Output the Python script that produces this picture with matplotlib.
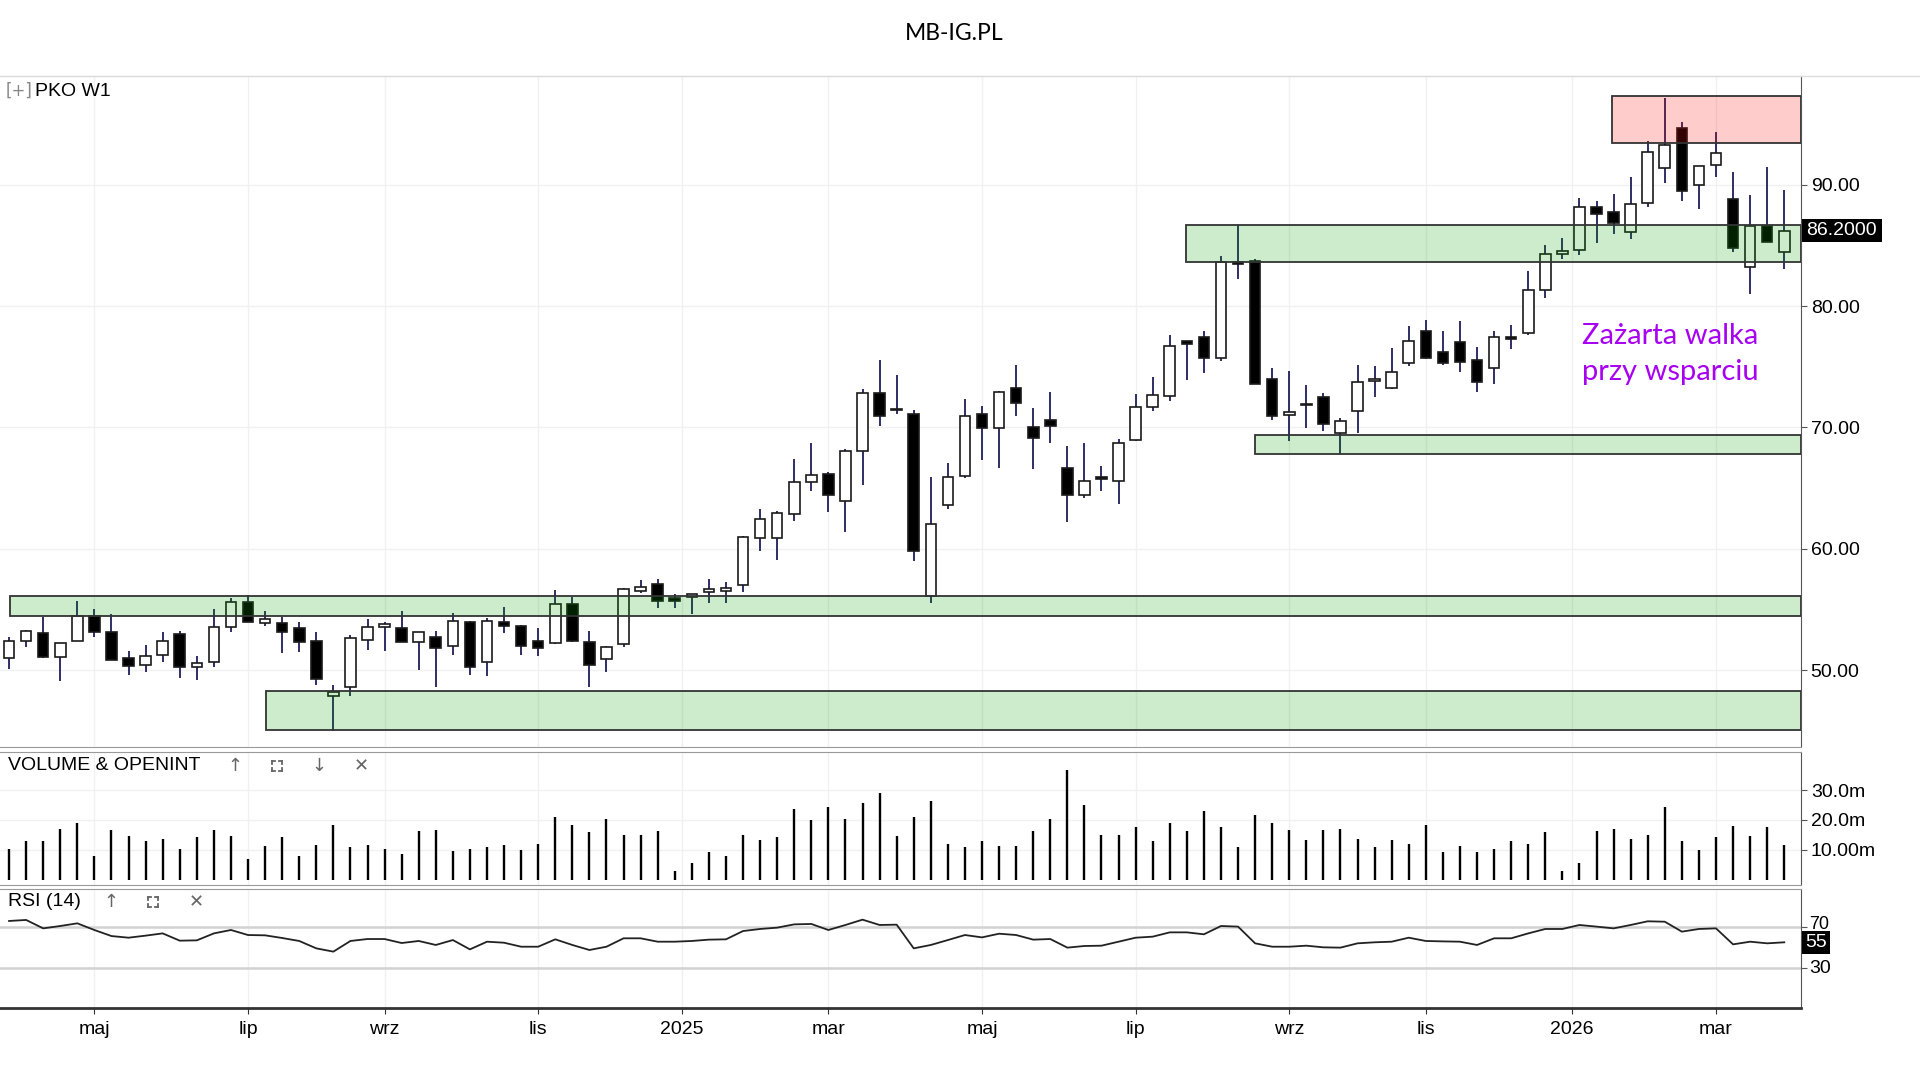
import numpy as np
import pandas as pd
import matplotlib
matplotlib.use('Agg')
import matplotlib.pyplot as plt
from matplotlib.patches import Rectangle
from matplotlib.lines import Line2D

plt.rcParams['font.family'] = ['Liberation Sans', 'DejaVu Sans']

# weekly PKO candles, week start dates
DATES = pd.date_range('2024-03-31', periods=105, freq='7D')

OPEN = [50.97, 52.43, 53.09, 51.06, 52.43, 54.49, 53.17, 50.97, 50.42, 51.25,
        52.95, 50.23, 50.64, 53.53, 55.61, 53.86, 53.91, 53.45, 52.43, 47.90,
        48.58, 52.48, 53.53, 53.50, 52.29, 52.76, 51.99, 53.99, 50.64, 53.99,
        53.66, 52.40, 52.21, 55.42, 52.35, 50.89, 52.15, 56.52, 57.07, 55.93,
        56.04, 56.40, 56.53, 57.02, 60.87, 60.87, 62.85, 65.47, 66.15, 63.93,
        68.05, 72.85, 71.49, 71.11, 56.12, 63.58, 65.96, 71.11, 69.95, 73.25,
        70.00, 70.62, 66.64, 64.47, 65.93, 65.61, 69.00, 71.65, 72.56, 77.11,
        77.47, 75.73, 83.66, 83.72, 74.02, 70.99, 71.90, 72.48, 69.53, 71.32,
        73.80, 73.25, 75.32, 77.93, 76.20, 77.06, 75.55, 74.86, 77.47, 77.75,
        81.31, 84.31, 84.58, 88.12, 87.77, 86.13, 88.50, 91.36, 94.63, 89.95,
        91.58, 88.80, 83.19, 86.62, 84.41]
HIGH = [52.76, 53.31, 54.35, 52.21, 55.72, 55.01, 54.60, 51.60, 52.07, 53.17,
        53.22, 51.17, 55.01, 55.97, 56.19, 54.90, 54.35, 53.99, 53.17, 48.78,
        52.90, 54.19, 53.99, 54.90, 53.17, 53.25, 54.68, 54.08, 54.27, 55.17,
        53.72, 53.45, 56.60, 56.00, 53.22, 51.99, 56.74, 57.43, 57.48, 56.31,
        56.26, 57.48, 57.26, 61.08, 63.25, 63.09, 67.43, 68.73, 66.29, 68.24,
        73.20, 75.56, 74.28, 71.44, 65.88, 67.10, 72.38, 71.79, 73.01, 75.10,
        71.57, 72.93, 68.46, 68.73, 66.83, 69.05, 72.74, 74.15, 77.58, 77.11,
        77.93, 84.13, 86.67, 83.86, 74.90, 74.63, 73.53, 72.84, 70.77, 75.18,
        75.04, 76.56, 78.35, 78.84, 77.93, 78.79, 76.65, 77.97, 78.43, 82.86,
        85.04, 85.59, 88.86, 88.66, 89.26, 90.63, 93.57, 97.17, 95.12, 91.53,
        94.31, 91.04, 89.18, 91.44, 89.59]
LOW = [50.07, 51.88, 51.03, 49.11, 52.43, 52.70, 50.84, 49.60, 49.82, 50.64,
       49.33, 49.19, 50.29, 53.12, 53.94, 53.64, 51.39, 51.52, 48.78, 44.99,
       47.87, 51.66, 51.58, 52.29, 50.01, 48.64, 51.25, 49.60, 49.52, 53.03,
       51.25, 51.17, 52.15, 52.35, 48.58, 49.82, 51.88, 56.33, 55.12, 55.12,
       54.63, 55.50, 55.50, 56.40, 59.78, 59.05, 62.30, 64.74, 63.04, 61.41,
       65.26, 70.14, 71.11, 58.97, 55.50, 63.25, 65.80, 67.32, 66.69, 70.98,
       66.61, 68.73, 62.22, 64.17, 64.74, 63.71, 68.86, 71.38, 72.15, 73.88,
       74.49, 75.45, 82.26, 73.58, 70.58, 68.84, 69.94, 69.67, 67.82, 69.53,
       72.51, 73.17, 75.04, 75.65, 75.18, 74.59, 72.94, 73.57, 76.43, 77.60,
       80.68, 83.87, 84.17, 85.23, 85.91, 85.50, 88.17, 90.14, 88.66, 87.96,
       90.63, 84.41, 80.95, 85.31, 83.05]
CLOSE = [52.43, 53.25, 51.06, 52.21, 54.46, 53.12, 50.84, 50.34, 51.17, 52.43,
         50.23, 50.56, 53.53, 55.61, 53.94, 54.19, 53.12, 52.29, 49.30, 48.17,
         52.62, 53.53, 53.80, 52.29, 53.17, 51.80, 54.08, 50.23, 54.08, 53.64,
         51.99, 51.80, 55.42, 52.40, 50.42, 51.88, 56.66, 56.88, 55.72, 55.72,
         56.26, 56.67, 56.80, 60.95, 62.44, 62.98, 65.53, 66.10, 64.44, 68.05,
         72.85, 70.95, 71.40, 59.78, 62.03, 65.93, 70.98, 69.95, 72.93, 71.98,
         69.13, 70.14, 64.39, 65.61, 65.75, 68.73, 71.71, 72.66, 76.69, 76.91,
         75.73, 83.64, 83.44, 73.58, 70.96, 71.24, 71.85, 70.28, 70.50, 73.72,
         74.00, 74.55, 77.11, 75.73, 75.32, 75.41, 73.76, 77.47, 77.25, 81.32,
         84.31, 84.50, 88.12, 87.55, 86.87, 88.39, 92.67, 93.30, 89.48, 91.53,
         92.59, 84.77, 86.62, 85.31, 86.20]

# volume in millions
VOLUME = [10.4, 13.1, 13.1, 17.1, 18.9, 8.0, 16.7, 14.7, 13.0, 13.8,
          10.4, 14.2, 16.7, 14.7, 7.1, 11.3, 14.2, 8.0, 11.7, 18.4,
          10.9, 11.7, 10.4, 8.7, 16.3, 16.7, 9.7, 10.4, 10.9, 11.7,
          10.1, 12.1, 20.9, 18.4, 15.9, 20.4, 15.0, 15.0, 16.3, 3.0,
          5.8, 9.2, 8.0, 15.0, 13.3, 14.2, 23.8, 20.0, 24.2, 20.4,
          25.6, 28.9, 14.7, 20.9, 26.4, 12.1, 10.9, 13.0, 11.3, 11.3,
          16.3, 20.4, 36.7, 25.0, 15.0, 15.0, 17.6, 13.0, 18.9, 16.3,
          23.0, 17.6, 10.9, 21.8, 18.9, 16.7, 13.3, 16.7, 17.1, 13.8,
          10.9, 13.3, 12.1, 18.4, 9.2, 11.3, 9.2, 10.4, 13.0, 12.1,
          15.9, 3.0, 5.8, 16.3, 17.1, 13.8, 15.0, 24.2, 13.0, 10.1,
          14.2, 17.9, 14.7, 17.6, 11.7]

RSI = [76.2, 77.2, 69.0, 71.3, 73.9, 67.4, 61.5, 59.9, 61.9, 64.1,
       57.0, 57.3, 64.1, 67.4, 62.5, 62.2, 59.6, 56.7, 49.5, 46.3,
       56.7, 58.6, 58.6, 54.7, 56.7, 52.8, 57.6, 48.5, 56.0, 55.0,
       51.1, 51.1, 58.3, 52.8, 47.9, 51.1, 59.3, 59.3, 56.0, 56.0,
       56.7, 58.0, 58.3, 66.4, 68.4, 69.7, 72.9, 73.3, 67.4, 72.3,
       77.5, 72.3, 72.6, 49.5, 52.8, 57.6, 62.5, 60.2, 63.8, 62.5,
       58.0, 58.6, 50.2, 51.8, 52.1, 56.0, 59.9, 60.9, 65.1, 65.1,
       63.2, 71.3, 70.7, 54.4, 51.1, 51.1, 52.1, 50.5, 50.2, 54.4,
       55.4, 56.0, 59.9, 56.7, 56.3, 56.0, 52.8, 59.3, 59.3, 64.1,
       68.4, 68.4, 72.3, 70.7, 69.0, 72.3, 75.9, 75.5, 65.8, 68.4,
       69.0, 53.4, 56.0, 54.4, 55.4]

# support / resistance zones: (first candle, low, high, kind)
ZONES = [(0.05, 54.5, 56.1, 'g'),
         (15.05, 45.1, 48.3, 'g'),
         (68.95, 83.6, 86.65, 'g'),
         (73.0, 67.8, 69.4, 'g'),
         (93.9, 93.4, 97.3, 'r')]

TICK_MONTHS = ['2024-05-01', '2024-07-01', '2024-09-01', '2024-11-01', '2025-01-01', '2025-03-01',
               '2025-05-01', '2025-07-01', '2025-09-01', '2025-11-01', '2026-01-01', '2026-03-01']
TICK_LABELS = ['maj', 'lip', 'wrz', 'lis', '2025', 'mar', 'maj', 'lip', 'wrz', 'lis', '2026', 'mar']

LAST = 86.20

x = np.arange(len(DATES))
XL, XR = -0.53, 104.98

# tick positions on the gapless week axis
tick_pos = []
for m in pd.to_datetime(TICK_MONTHS):
    i = int(np.argmax(DATES >= m))
    if m.month == 1:
        tick_pos.append(i - 1 + (m - DATES[i - 1]).days / 7)
    else:
        tick_pos.append(i)

W, H = 1920, 1080
fig = plt.figure(figsize=(19.2, 10.8), dpi=100)


def box(top, bottom):
    return [0, 1 - bottom / H, 1801 / W, (bottom - top) / H]


def corners(cx, cy, s=5, k=3):
    # the "maximise" icon: four small corner marks
    for sx in (-1, 1):
        for sy in (-1, 1):
            x0, y0 = cx + sx * s, cy + sy * s
            fig.add_artist(Line2D([x0 / W, x0 / W], [1 - y0 / H, 1 - (y0 - sy * k) / H],
                                  color='#666666', lw=1.3))
            fig.add_artist(Line2D([x0 / W, (x0 - sx * k) / W], [1 - y0 / H] * 2,
                                  color='#666666', lw=1.3))


ax = fig.add_axes(box(76, 747))
axv = fig.add_axes(box(752, 885))
axr = fig.add_axes(box(889, 1007.5))

for a in (ax, axv, axr):
    a.set_xlim(XL, XR)
    a.set_xticks(tick_pos)
    a.grid(True, color='#f1f1f1', lw=1)
    a.set_axisbelow(True)
    a.spines['left'].set_visible(False)
    a.spines['right'].set_color('#555555')
    a.spines['top'].set_color('#9a9a9a')
    a.spines['bottom'].set_color('#9a9a9a')
    a.yaxis.tick_right()
    a.tick_params(axis='y', length=4, color='#555555', labelsize=14, pad=3)
    a.tick_params(axis='x', length=0, labelbottom=False)
ax.spines['top'].set_color('#dcdcdc')

# candles
O, Hh, L, C = map(np.array, (OPEN, HIGH, LOW, CLOSE))
up = C >= O
ax.vlines(x, L, Hh, color='#1e1e5a', lw=1.3, zorder=2)
body = np.maximum(np.abs(C - O), 0.1)
ax.bar(x, body, width=0.62, bottom=np.minimum(O, C),
       color=np.where(up, 'white', 'black'), edgecolor='#1a1a1a', linewidth=1.2, zorder=3)

for x0, lo, hi, kind in ZONES:
    fc = (0.0, 0.63, 0.0, 0.2) if kind == 'g' else (1.0, 0.0, 0.0, 0.2)
    ax.add_patch(Rectangle((x0, lo), XR - x0, hi - lo, facecolor=fc,
                           edgecolor='#333333', lw=1.3, zorder=4))

ax.set_ylim(43.67, 98.95)
ax.set_yticks([50, 60, 70, 80, 90])
ax.set_yticklabels(['50.00', '60.00', '70.00', '80.00', '90.00'])

ax.add_patch(Rectangle((1.0005, LAST - 0.95), 0.0444, 1.9, transform=ax.get_yaxis_transform(),
                       facecolor='black', clip_on=False, zorder=10))
ax.text(1.0005 + 0.0222, LAST, '%.4f' % LAST, transform=ax.get_yaxis_transform(),
        ha='center', va='center', color='white', fontsize=14, zorder=11)

# volume
axv.vlines(x, 0, VOLUME, color='black', lw=1.7, zorder=3)
axv.set_ylim(-1.67, 42.67)
axv.set_yticks([10, 20, 30])
axv.set_yticklabels(['10.00m', '20.0m', '30.0m'])

# rsi
axr.axhline(70, color='#d2d2d2', lw=1.8, zorder=1)
axr.axhline(30, color='#d2d2d2', lw=1.8, zorder=1)
axr.plot(x, RSI, color='#222222', lw=1.3, zorder=3)
axr.set_ylim(-8.2, 107.4)
axr.set_yticks([30, 70])
axr.set_yticklabels([])
axr.text(1.0045, 30, '30', transform=axr.get_yaxis_transform(), ha='left', va='center', fontsize=14)
axr.text(1.0045, 73, '70', transform=axr.get_yaxis_transform(), ha='left', va='center', fontsize=13)
axr.spines['bottom'].set_color('#333333')
axr.spines['bottom'].set_linewidth(2)
axr.tick_params(axis='x', length=4, color='#333333', labelbottom=True, labelsize=14, pad=6)
axr.set_xticklabels(TICK_LABELS)
axr.add_patch(Rectangle((1.0005, RSI[-1] - 11), 0.0156, 22.4, transform=axr.get_yaxis_transform(),
                        facecolor='black', clip_on=False, zorder=10))
axr.text(1.0005 + 0.0078, RSI[-1], '%d' % round(RSI[-1]), transform=axr.get_yaxis_transform(),
         ha='center', va='center', color='white', fontsize=14, zorder=11)

# header and panel labels
fig.add_artist(Line2D([0, 1], [1 - 76 / H] * 2, color='#dcdcdc', lw=1))
fig.text(954 / W, 1 - 34 / H, 'MB-IG.PL', ha='center', va='center', fontsize=16.5, family='Lato')
fig.text(6 / W, 1 - 91 / H, '[+]', ha='left', va='center', fontsize=12, color='#888888', family='DejaVu Sans')
fig.text(35 / W, 1 - 91 / H, 'PKO W1', ha='left', va='center', fontsize=14)
fig.text(8 / W, 1 - 766 / H, 'VOLUME & OPENINT', ha='left', va='center', fontsize=14)
for px, s in [(235, '↑'), (319, '↓'), (361, '✕')]:
    fig.text(px / W, 1 - 766 / H, s, ha='center', va='center', fontsize=13, color='#666666',
             family='DejaVu Sans')
corners(277, 766)
fig.text(8 / W, 1 - 902 / H, 'RSI (14)', ha='left', va='center', fontsize=14)
for px, s in [(111, '↑'), (196, '✕')]:
    fig.text(px / W, 1 - 902 / H, s, ha='center', va='center', fontsize=13, color='#666666',
             family='DejaVu Sans')
corners(153, 902)

fig.text(1582 / W, 1 - 354 / H, 'Zażarta walka\nprzy wsparciu', ha='left', va='center',
         fontsize=21, color='#a800f0', family='Lato', linespacing=1.5)

fig.savefig('out.png', dpi=100)
